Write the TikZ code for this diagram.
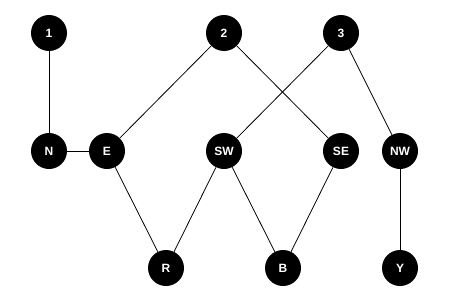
\documentclass[tikz,border=0pt]{standalone}
\usepackage{fontspec}
\setmainfont{Liberation Sans}
\usepackage{tikz}

\tikzset{
    vertex/.style={circle, fill=black, text=white, minimum size=27pt, inner sep=0pt, font=\small\bfseries},
    edge/.style={line width=0.6pt}
}

\begin{document}
\begin{tikzpicture}[x=0.75pt, y=-0.75pt]
    % Frame
    \useasboundingbox (0, 0) rectangle (450, 300);

    % Top row
    \node[vertex] (n1) at (49, 33) {1};
    \node[vertex] (n2) at (224, 33) {2};
    \node[vertex] (n3) at (341, 33) {3};

    % Middle row
    \node[vertex] (N) at (49, 151) {N};
    \node[vertex] (E) at (107, 151) {E};
    \node[vertex] (SW) at (224, 151) {SW};
    \node[vertex] (SE) at (341, 151) {SE};
    \node[vertex] (NW) at (400, 151) {NW};

    % Bottom row
    \node[vertex] (R) at (166, 268) {R};
    \node[vertex] (B) at (283, 268) {B};
    \node[vertex] (Y) at (400, 268) {Y};

    % Edges
    \draw[edge] (n1) -- (N);
    \draw[edge] (N) -- (E);
    \draw[edge] (n2) -- (E);
    \draw[edge] (n2) -- (SE);
    \draw[edge] (n3) -- (SW);
    \draw[edge] (n3) -- (NW);
    \draw[edge] (E) -- (R);
    \draw[edge] (SW) -- (R);
    \draw[edge] (SW) -- (B);
    \draw[edge] (SE) -- (B);
    \draw[edge] (NW) -- (Y);
\end{tikzpicture}
\end{document}
